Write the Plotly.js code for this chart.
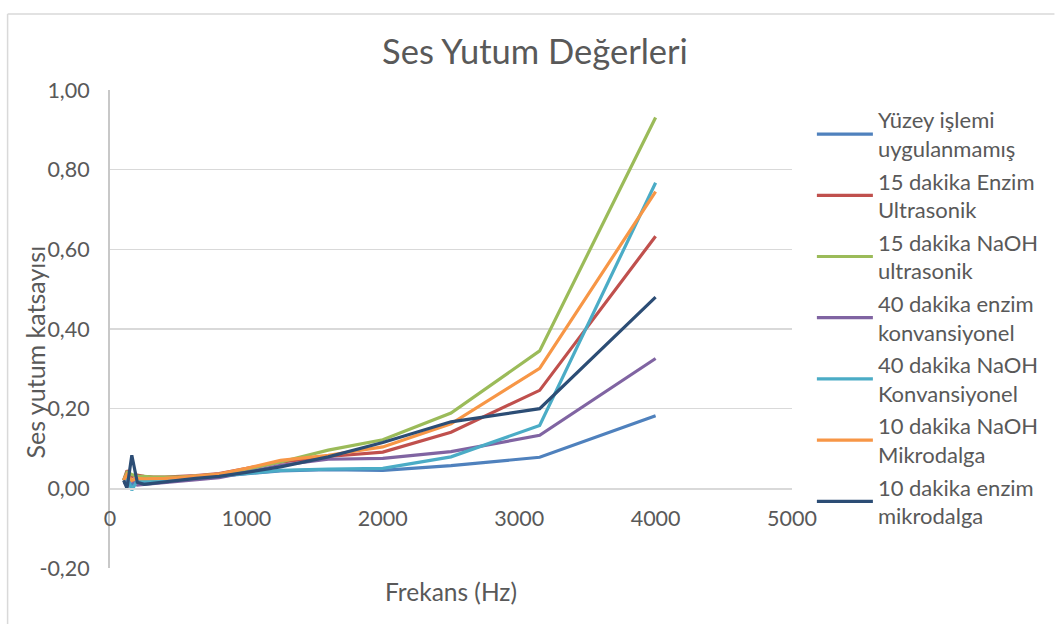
<!DOCTYPE html>
<html>
<head>
<meta charset="utf-8">
<script src="https://cdn.plot.ly/plotly-3.0.1.min.js"></script>
<style>html,body{margin:0;padding:0;background:#fff;}#chart{width:1056px;height:624px;}</style>
</head>
<body>
<div id="chart"></div>
<script>
const frequencies = [100,125,160,200,250,315,400,500,630,800,1000,1250,1600,2000,2500,3150,4000];

const seriesNames = [
  "Yüzey işlemi<br>uygulanmamış",
  "15 dakika Enzim<br>Ultrasonik",
  "15 dakika NaOH<br>ultrasonik",
  "40 dakika enzim<br>konvansiyonel",
  "40 dakika NaOH<br>Konvansiyonel",
  "10 dakika NaOH<br>Mikrodalga",
  "10 dakika enzim<br>mikrodalga"
];

const yuzeyIslemiUygulanmamis = [0.020,0.015,0.010,0.012,0.013,0.016,0.018,0.022,0.025,0.030,0.035,0.044,0.047,0.045,0.057,0.078,0.182];
const enzimUltrasonik15 = [0.020,0.045,0.030,0.033,0.030,0.028,0.028,0.029,0.032,0.037,0.050,0.066,0.080,0.091,0.141,0.246,0.633];
const naohUltrasonik15 = [0.020,0.040,0.035,0.030,0.030,0.028,0.028,0.028,0.031,0.035,0.047,0.066,0.096,0.122,0.189,0.345,0.931];
const enzimKonvansiyonel40 = [0.015,0.010,0.020,0.008,0.010,0.012,0.014,0.017,0.021,0.027,0.040,0.058,0.073,0.075,0.092,0.133,0.326];
const naohKonvansiyonel40 = [0.020,0.030,-0.005,0.020,0.018,0.018,0.020,0.022,0.026,0.030,0.036,0.045,0.048,0.050,0.079,0.158,0.767];
const naohMikrodalga10 = [0.020,0.035,0.020,0.025,0.024,0.024,0.025,0.027,0.031,0.036,0.050,0.070,0.083,0.104,0.162,0.301,0.745];
const enzimMikrodalga10 = [0.020,0.000,0.083,0.015,0.010,0.013,0.016,0.020,0.025,0.030,0.040,0.054,0.079,0.115,0.167,0.200,0.480];

const seriesValues = [yuzeyIslemiUygulanmamis, enzimUltrasonik15, naohUltrasonik15, enzimKonvansiyonel40, naohKonvansiyonel40, naohMikrodalga10, enzimMikrodalga10];
const seriesColors = ["#4F81BD","#C0504D","#9BBB59","#8064A2","#4BACC6","#F79646","#2C4D75"];

const yTicks = [-0.2,0,0.2,0.4,0.6,0.8,1.0];
const yTickText = ["-0,20","0,00","0,20","0,40","0,60","0,80","1,00"];
const xTicks = [0,1000,2000,3000,4000,5000];
const xTickText = ["0","1000","2000","3000","4000","5000"];

const FONT = "Lato, 'Open Sans', sans-serif";
const GREY = "#595959";

const traces = seriesValues.map((vals, i) => ({
  type: "scatter",
  mode: "lines",
  x: frequencies,
  y: vals,
  name: seriesNames[i],
  legendgroup: "g" + i,
  line: {color: seriesColors[i], width: 3.2},
  hoverinfo: "x+y+name"
}));

const W = 1056, H = 624;
const M = {l: 110, r: 260, t: 90, b: 56};
const pw = W - M.l - M.r, ph = H - M.t - M.b;
const px = v => (v - M.l) / pw;
const py = v => (H - M.b - v) / ph;

const layout = {
  width: W, height: H,
  margin: M,
  paper_bgcolor: "#fff",
  plot_bgcolor: "#fff",
  font: {family: FONT, color: GREY, size: 21},
  title: {
    text: "Ses Yutum Değerleri",
    font: {family: FONT, size: 34.5, color: GREY},
    xref: "container", yref: "container",
    x: 535 / W, xanchor: "center",
    y: 1 - 52 / H, yanchor: "middle"
  },
  xaxis: {
    range: [0, 5000],
    tickvals: xTicks,
    ticktext: xTickText,
    showgrid: false,
    zeroline: false,
    showline: true,
    linecolor: "#D9D9D9",
    linewidth: 1.5,
    anchor: "free",
    position: 0.2 / 1.2,
    ticks: "",
    ticklabelstandoff: 10,
    tickfont: {family: FONT, size: 21.5, color: GREY},
    title: {text: "Frekans (Hz)", font: {family: FONT, size: 24.5, color: GREY}, standoff: 54}
  },
  yaxis: {
    range: [-0.2, 1.0],
    tickvals: yTicks,
    ticktext: yTickText,
    showgrid: true,
    gridcolor: "#D9D9D9",
    gridwidth: 1.5,
    zeroline: false,
    showline: true,
    linecolor: "#C8C8C8",
    linewidth: 2,
    ticks: "",
    ticklabelstandoff: 14,
    tickfont: {family: FONT, size: 21.5, color: GREY}
  },
  annotations: [{
    text: "Ses yutum katsayısı",
    xref: "paper", yref: "paper",
    x: px(35), y: py(352),
    xanchor: "center", yanchor: "middle",
    textangle: -90,
    showarrow: false,
    font: {family: FONT, size: 25, color: GREY}
  }],
  legend: {
    x: px(816), xanchor: "left",
    y: py(99), yanchor: "top",
    font: {family: FONT, size: 22, color: GREY},
    traceorder: "grouped",
    tracegroupgap: 1,
    itemwidth: 56,
    bgcolor: "rgba(0,0,0,0)"
  },
  shapes: [
    {type: "line", xref: "paper", yref: "paper", x0: px(7), x1: px(7), y0: py(14), y1: py(630), line: {color: "#D9D9D9", width: 1.5}},
    {type: "line", xref: "paper", yref: "paper", x0: px(7), x1: px(1060), y0: py(14), y1: py(14), line: {color: "#D9D9D9", width: 1.5}}
  ],
  showlegend: true
};

Plotly.newPlot("chart", traces, layout, {displayModeBar: false, staticPlot: true});
</script>
</body>
</html>
